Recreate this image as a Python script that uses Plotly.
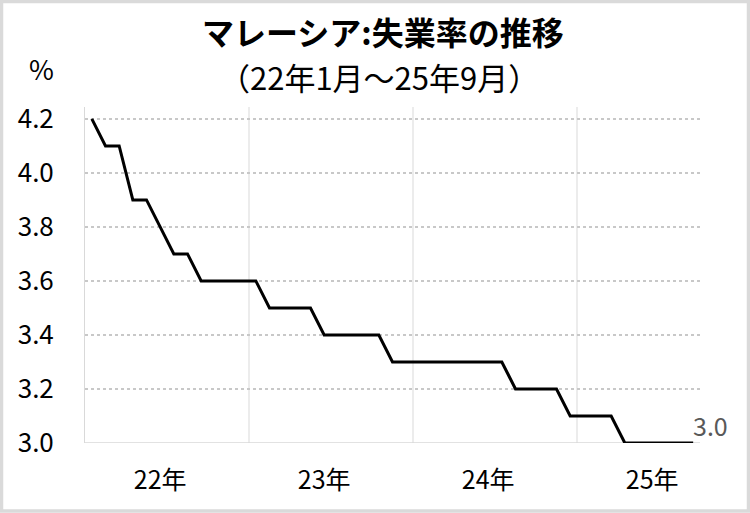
import plotly.graph_objects as go

months = [f"{y}-{m:02d}" for y in (2022, 2023, 2024, 2025) for m in range(1, 13)][:45]
rates = [4.2, 4.1, 4.1, 3.9, 3.9, 3.8, 3.7, 3.7, 3.6, 3.6, 3.6, 3.6,
         3.6, 3.5, 3.5, 3.5, 3.5, 3.4, 3.4, 3.4, 3.4, 3.4, 3.3, 3.3,
         3.3, 3.3, 3.3, 3.3, 3.3, 3.3, 3.3, 3.2, 3.2, 3.2, 3.2, 3.1,
         3.1, 3.1, 3.1, 3.0, 3.0, 3.0, 3.0, 3.0, 3.0]
year_labels = ["22年", "23年", "24年", "25年"]
year_label_pos = [5, 17, 29, 41]
year_bounds = [11.5, 23.5, 35.5]
y_ticks = [3.0, 3.2, 3.4, 3.6, 3.8, 4.0, 4.2]

FONT = "Noto Sans CJK JP"
idx = list(range(len(rates)))

L, R, T, B = 85, 50, 107, 70
W, H = 750, 513
pw, ph = W - L - R, H - T - B

def px_x(p):
    return (p - L) / pw

def px_y(p):
    return (H - B - p) / ph

fig = go.Figure()
fig.add_trace(go.Scatter(x=idx, y=rates, mode="lines",
                         line=dict(color="black", width=3),
                         hoverinfo="skip", showlegend=False))

for b in year_bounds:
    fig.add_shape(type="line", xref="x", yref="paper", x0=b, x1=b, y0=0, y1=1,
                  line=dict(color="#d9d9d9", width=1), layer="below")

fig.add_shape(type="line", xref="paper", yref="y", x0=0, x1=1, y0=3.0, y1=3.0,
              line=dict(color="#d9d9d9", width=1.5), layer="below")

fig.add_shape(type="rect", xref="paper", yref="paper",
              x0=px_x(1.5), x1=px_x(748.5), y0=px_y(511), y1=px_y(1.5),
              line=dict(color="#dadada", width=3.5))

fig.add_annotation(x=idx[-1], y=rates[-1], xref="x", yref="y",
                   text=f"{rates[-1]:.1f}", showarrow=False,
                   xanchor="left", yanchor="bottom", xshift=-2, yshift=-2,
                   font=dict(family=FONT, size=25, color="#595959"))

fig.add_annotation(x=px_x(383), y=px_y(31), xref="paper", yref="paper",
                   xanchor="center", yanchor="middle",
                   text="<b>マレーシア:失業率の推移</b>", showarrow=False,
                   font=dict(family=FONT, size=32, color="black"))
fig.add_annotation(x=px_x(379), y=px_y(76), xref="paper", yref="paper",
                   xanchor="center", yanchor="middle",
                   text="（22年1月～25年9月）", showarrow=False,
                   font=dict(family=FONT, size=31, color="black"))
fig.add_annotation(x=px_x(41), y=px_y(69), xref="paper", yref="paper",
                   xanchor="center", yanchor="middle",
                   text="%", showarrow=False,
                   font=dict(family=FONT, size=27, color="black"))

fig.update_layout(
    width=W, height=H,
    margin=dict(l=L, r=R, t=T, b=B),
    paper_bgcolor="white", plot_bgcolor="white",
    font=dict(family=FONT, color="black"),
    xaxis=dict(range=[-0.5, 44.5], tickvals=year_label_pos,
               ticktext=year_labels, showgrid=False, zeroline=False,
               showline=False, ticks="", ticklabelstandoff=20,
               tickfont=dict(family=FONT, size=25, color="black")),
    yaxis=dict(range=[3.0, 4.244], tickvals=y_ticks,
               ticktext=[f"{v:.1f}" for v in y_ticks],
               showgrid=True, gridcolor="#c8c8c8", griddash="dot", gridwidth=1.5,
               zeroline=False, showline=True, linecolor="#d9d9d9", linewidth=1,
               ticks="", ticklabelstandoff=25,
               tickfont=dict(family=FONT, size=26, color="black")),
)

fig.write_html("out.html", config={"displayModeBar": False},
               post_script="document.body.style.margin='0';")
